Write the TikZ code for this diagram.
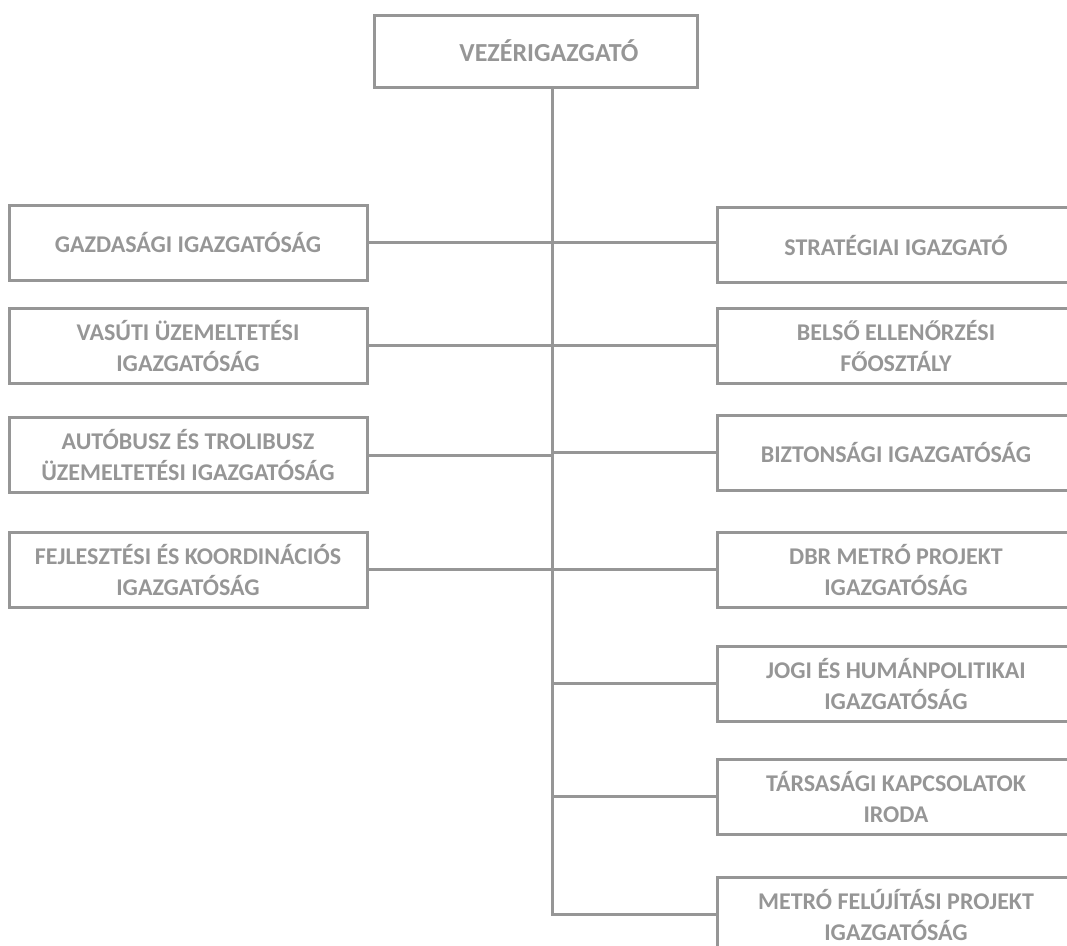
\documentclass[tikz,border=0pt]{standalone}
\usepackage{fontspec}
\setmainfont{Carlito}
\definecolor{r150g150b150}{rgb}{0.588235,0.588235,0.588235}
\tikzset{
  unitbox/.style={draw=r150g150b150, line width=3pt, align=center,
    text=r150g150b150, font=\fontsize{24}{31}\selectfont\bfseries,
    inner sep=0pt, minimum width=358pt, minimum height=75pt},
  link/.style={draw=r150g150b150, line width=3pt}
}
\begin{document}
\begin{tikzpicture}[x=1pt,y=-1pt]
                        \useasboundingbox (0,0) rectangle (1067,945);
                        \clip (0,0) rectangle (1067,945);

                        % Drawing box of the head
                        \node [unitbox, minimum width=323pt, minimum height=72pt,
                          font=\fontsize{26}{31}\selectfont\bfseries] (vez) at (535.5,51) {\hspace*{27pt}VEZÉRIGAZGATÓ};%

                        % Left column
                        \node [unitbox] (gazd) at (188,242.5) {GAZDASÁGI IGAZGATÓSÁG};%
                        \node [unitbox] (vasut) at (188,345.5) {VASÚTI ÜZEMELTETÉSI\\IGAZGATÓSÁG};%
                        \node [unitbox] (busz) at (188,455) {AUTÓBUSZ ÉS TROLIBUSZ\\ÜZEMELTETÉSI IGAZGATÓSÁG};%
                        \node [unitbox] (fejl) at (188,569.5) {FEJLESZTÉSI ÉS KOORDINÁCIÓS\\IGAZGATÓSÁG};%

                        % Right column
                        \node [unitbox] (strat) at (896,245) {STRATÉGIAI IGAZGATÓ};%
                        \node [unitbox] (belso) at (896,345.5) {BELSŐ ELLENŐRZÉSI\\FŐOSZTÁLY};%
                        \node [unitbox] (bizt) at (896,452.5) {BIZTONSÁGI IGAZGATÓSÁG};%
                        \node [unitbox] (dbr) at (896,570) {DBR METRÓ PROJEKT\\IGAZGATÓSÁG};%
                        \node [unitbox] (jogi) at (896,683.5) {JOGI ÉS HUMÁNPOLITIKAI\\IGAZGATÓSÁG};%
                        \node [unitbox] (tars) at (896,796.5) {TÁRSASÁGI KAPCSOLATOK\\IRODA};%
                        \node [unitbox] (felu) at (896,914.5) {METRÓ FELÚJÍTÁSI PROJEKT\\IGAZGATÓSÁG};%

                        % Trunk
                        \coordinate (top) at (552,87);%
                        \draw [link] (top) -- (top |- felu.west) -- (felu.west);%

                        % Drawing branches left to right
                        \draw [link] (gazd.east) -- (strat.west |- gazd.east);%
                        \draw [link] (vasut.east) -- (belso.west |- vasut.east);%
                        \draw [link] (busz.east) -- (top |- busz.east);%
                        \draw [link] (top |- bizt.west) -- (bizt.west);%
                        \draw [link] (fejl.east) -- (dbr.west |- fejl.east);%

                        % Drawing branches to the right only
                        \draw [link] (top |- jogi.west) -- (jogi.west);%
                        \draw [link] (top |- tars.west) -- (tars.west);%
\end{tikzpicture}
\end{document}
